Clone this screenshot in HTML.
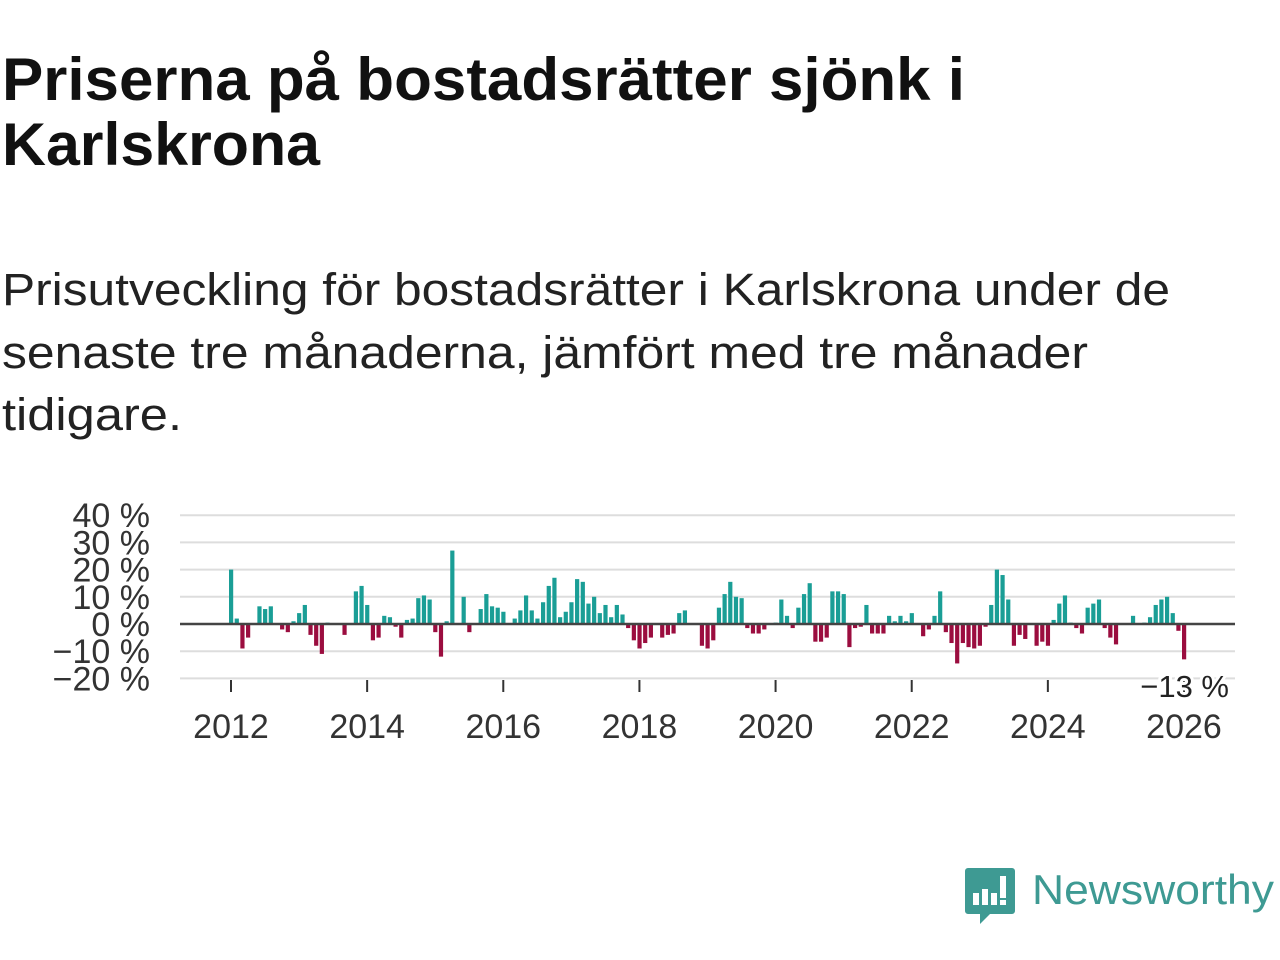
<!DOCTYPE html>
<html><head><meta charset="utf-8">
<style>
html,body{margin:0;padding:0;background:#fff;width:1280px;height:960px;overflow:hidden;font-family:"Liberation Sans","Noto Sans CJK SC",sans-serif;}
svg{position:absolute;left:0;top:0;}
</style></head><body>
<svg width="1280" height="960" font-family="Liberation Sans, sans-serif">
<g font-weight="bold" font-size="60" fill="#111">
<text x="2" y="100" textLength="963" lengthAdjust="spacingAndGlyphs">Priserna på bostadsrätter sjönk i</text>
<text x="2" y="165" textLength="318" lengthAdjust="spacingAndGlyphs">Karlskrona</text>
</g>
<g font-size="45" fill="#222">
<text x="2" y="305" textLength="1168" lengthAdjust="spacingAndGlyphs">Prisutveckling för bostadsrätter i Karlskrona under de</text>
<text x="2" y="368" textLength="1086" lengthAdjust="spacingAndGlyphs">senaste tre månaderna, jämfört med tre månader</text>
<text x="2" y="430" textLength="180" lengthAdjust="spacingAndGlyphs">tidigare.</text>
</g>
</svg>
<svg id="chart" width="1280" height="960"></svg>
<svg width="1280" height="960" style="pointer-events:none">
<path d="M968 868 h44 a3 3 0 0 1 3 3 v40 a3 3 0 0 1 -3 3 h-22 l-10 10 v-10 h-12 a3 3 0 0 1 -3 -3 v-40 a3 3 0 0 1 3 -3z" fill="#3e9a93"/>
<rect x="973" y="893" width="6" height="12" fill="#fff"/><rect x="982" y="889" width="6" height="16" fill="#fff"/><rect x="991" y="893" width="6" height="12" fill="#fff"/><rect x="1000" y="876" width="6" height="22" fill="#fff"/><rect x="1000" y="900" width="6" height="5" fill="#fff"/>
<text x="1032" y="904" font-size="42" fill="#3e9a93" font-family="Liberation Sans, sans-serif" textLength="242" lengthAdjust="spacingAndGlyphs">Newsworthy</text>
</svg>
<script>
const startYear = 2012;
const values = [20,2,-9,-5,0,6.5,5.5,6.5,0,-2,-3,1,4,7,-4,-8,-11,0.5,0,0,-4,0,12,14,7,-6,-5,3,2.5,-1,-5,1.5,2,9.5,10.5,9,-3,-12,1,27,0,10,-3,0,5.5,11,6.5,6,4.5,0,2,5,10.5,5,2,8,14,17,2.5,4.5,8,16.5,15.5,7.5,10,4,7,2.5,7,3.5,-1.5,-6,-9,-7,-5,0,-5,-4,-3.5,4,5,0,0,-8,-9,-6,6,11,15.5,10,9.5,-1.5,-3.5,-3.5,-2,0,0.5,9,3,-1.5,6,11,15,-6.5,-6.5,-5,12,12,11,-8.5,-1.5,-1,7,-3.5,-3.5,-3.5,3,1,3,1,4,0,-4.5,-2,3,12,-3,-7,-14.5,-7,-8.5,-9,-8,-1,7,20,18,9,-8,-4,-5.5,0,-8,-6.5,-8,1.5,7.5,10.5,0.5,-1.5,-3.5,6,7.5,9,-1.5,-5,-7.5,0,0,3,0,0.5,2.5,7,9,10,4,-2.5,-13];
const yTicks = [40,30,20,10,0,-10,-20];
const yTickLabels = ["40 %","30 %","20 %","10 %","0 %","−10 %","−20 %"];
const xTicks = [2012,2014,2016,2018,2020,2022,2024,2026];
const lastLabel = "−13 %";

const NS = "http://www.w3.org/2000/svg";
const svg = document.getElementById("chart");
const x0 = 231, pxPerYear = (1184-231)/14;
const xScale = yr => x0 + (yr - startYear) * pxPerYear;
const xMonth = i => xScale(startYear + i/12);
const yScale = v => 624 - v * 2.72;
function mk(tag, attrs){const e=document.createElementNS(NS,tag);for(const k in attrs)e.setAttribute(k,attrs[k]);svg.appendChild(e);return e;}

yTicks.forEach((t,i)=>{
  if(t!==0){const g=mk("line",{x1:180,x2:1235,y1:yScale(t),y2:yScale(t),stroke:"#dddddd","stroke-width":2});
  
  }
  const l=mk("text",{x:150,y:yScale(t)+12,"text-anchor":"end","font-size":34,fill:"#333","font-family":"Liberation Sans, sans-serif"});
  l.textContent=yTickLabels[i];
  
  
});
xTicks.forEach(t=>{
  const x=xScale(t);
  const tk=mk("line",{x1:x,x2:x,y1:680,y2:692,stroke:"#333","stroke-width":2});
  
  
  const l=mk("text",{x:x,y:738,"text-anchor":"middle","font-size":34,fill:"#333","font-family":"Liberation Sans, sans-serif"});
  l.textContent=t;
  
  
});
values.forEach((v,i)=>{
  const x=xMonth(i), y=yScale(Math.max(v,0)), h=Math.abs(yScale(v)-yScale(0));
  const r=mk("rect",{x:x-2,y:y,width:4.2,height:h,fill:v>=0?"#1a9e96":"#9b0d3f"});
  
  
});
const z=mk("line",{x1:180,x2:1235,y1:yScale(0),y2:yScale(0),stroke:"#444","stroke-width":2.5});


const ll=mk("text",{x:1229,y:697,"text-anchor":"end","font-size":31,fill:"#222",stroke:"#fff","stroke-width":6,"paint-order":"stroke","font-family":"Liberation Sans, sans-serif"});
ll.textContent=lastLabel;


</script>
</body></html>
